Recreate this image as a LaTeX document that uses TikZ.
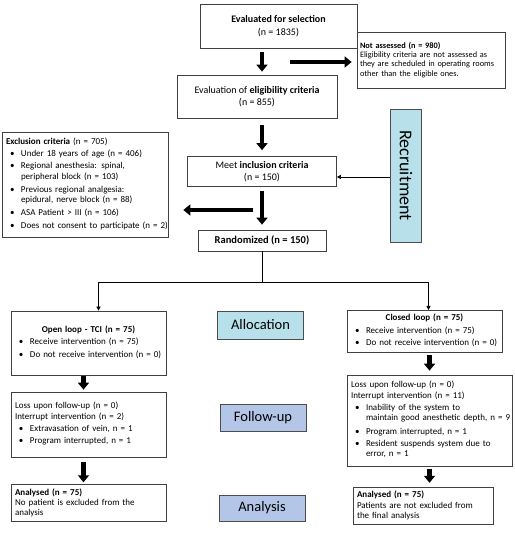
\documentclass[tikz,border=0pt]{standalone}
\usepackage{fontspec}
\setmainfont{Carlito}
\usetikzlibrary{arrows.meta}
\setlength{\parindent}{0pt}
\definecolor{phaseblue}{RGB}{183,224,234}
\definecolor{phaselilac}{RGB}{180,198,232}
\newcommand{\bul}[1]{\par\vspace{2pt}\makebox[15pt][l]{\hspace{4pt}\textbullet}\begin{tabular}[t]{@{}l@{}}#1\end{tabular}}

\begin{document}
\begin{tikzpicture}[x=1pt, y=-1pt,
  box/.style={draw=black!75, line width=0.7pt, fill=white, inner sep=4pt,
    font=\fontsize{9}{10.3}\selectfont},
  listbox/.style={box, align=left},
  headbox/.style={box, align=center, font=\fontsize{10}{11.5}\selectfont},
  phase/.style={draw=black!70, line width=0.7pt, font=\fontsize{14.5}{16}\selectfont},
  bigarrow/.style={line width=4.5pt, -{Triangle[length=7pt, width=11pt]}},
  thinarrow/.style={line width=0.6pt, -{Triangle[length=4pt, width=4pt]}}]

\useasboundingbox (0,0) rectangle (514,538);

\node[headbox, minimum width=157, minimum height=44, font=\fontsize{10}{13.5}\selectfont] (sel) at (278.5,26)
  {\textbf{Evaluated for selection}\\(n = 1835)};
\node[listbox, minimum width=148, minimum height=56, text width=142,
  inner sep=3pt, font=\fontsize{8.3}{9.2}\selectfont] (notas) at (431,60)
  {\textbf{Not assessed (n = 980)}\\Eligibility criteria are not assessed as\\they are scheduled in operating rooms\\other than the eligible ones.\par\vspace{8pt}};
\node[headbox, minimum width=160, minimum height=43] (elig) at (257,96.5)
  {Evaluation of \textbf{eligibility criteria}\\(n = 855)};
\node[headbox, minimum width=149, minimum height=30] (meet) at (262,171.5)
  {Meet \textbf{inclusion criteria}\\(n = 150)};
\node[phase, fill=phaseblue, minimum width=31, minimum height=133, inner sep=0pt,
  font=\fontsize{18}{20}\selectfont] (recr) at (406,175.5)
  {\rotatebox{-90}{Recruitment}};
\node[listbox, minimum width=166, minimum height=105, text width=158] (excl) at (85,184.5)
  {\textbf{Exclusion criteria} (n = 705)
   \bul{Under 18 years of age (n = 406)}
   \bul{Regional anesthesia: spinal,\\peripheral block (n = 103)}
   \bul{Previous regional analgesia:\\epidural, nerve block (n = 88)}
   \bul{ASA Patient > III (n = 106)}
   \bul{Does not consent to participate (n = 2)}};
\node[headbox, minimum width=128, minimum height=21, font=\fontsize{10.5}{12}\selectfont] (rand) at (262,240.5)
  {\textbf{Randomized (n = 150)}};

\node[listbox, minimum width=155, minimum height=64, text width=147] (open) at (88.5,343)
  {{\centering\textbf{Open loop - TCI (n = 75)}\par}
   \bul{Receive intervention (n = 75)}
   \bul{Do not receive intervention (n = 0)}};
\node[phase, fill=phaseblue, minimum width=86, minimum height=28] (alloc) at (260.5,325)
  {Allocation};
\node[listbox, minimum width=155, minimum height=39, text width=147] (closed) at (424.5,331.5)
  {{\centering\textbf{Closed loop (n = 75)}\par}
   \bul{Receive intervention (n = 75)}
   \bul{Do not receive intervention (n = 0)}};

\node[listbox, minimum width=155, minimum height=65, text width=147] (fupl) at (88.5,424.5)
  {Loss upon follow-up (n = 0)\par Interrupt intervention (n = 2)
   \bul{Extravasation of vein, n = 1}
   \bul{Program interrupted, n = 1}};
\node[phase, fill=phaselilac, minimum width=86, minimum height=27] (fuplab) at (263,417.5)
  {Follow-up};
\node[listbox, minimum width=165, minimum height=91, text width=157] (fupr) at (429.5,420.5)
  {Loss upon follow-up (n = 0)\par Interrupt intervention (n = 11)
   \bul{Inability of the system to\\maintain good anesthetic depth, n = 9}
   \bul{Program interrupted, n = 1}
   \bul{Resident suspends system due to\\error, n = 1}};

\node[listbox, minimum width=155, minimum height=36, text width=147] (anl) at (88.5,503)
  {\textbf{Analysed (n = 75)}\\No patient is excluded from the\\analysis};
\node[phase, fill=phaselilac, minimum width=86, minimum height=26] (anlab) at (262,508)
  {Analysis};
\node[listbox, minimum width=140, minimum height=35, text width=132] (anr) at (423,505.5)
  {\textbf{Analysed (n = 75)}\\Patients are not excluded from\\the final analysis};

\coordinate (skipfrom) at (290,62);
\coordinate (exclfrom) at (253,210);
\coordinate (split) at (262,282);

\draw[bigarrow, shorten <=4pt, shorten >=3pt] (sel.south -| meet.north) -- (elig.north -| meet.north);
\draw[bigarrow, shorten >=5pt] (skipfrom) -- (skipfrom -| notas.west);
\draw[bigarrow, shorten <=7pt, shorten >=6pt] (elig.south -| meet.north) -- (meet.north);
\draw[thinarrow] (recr.west |- 0,177) -- (meet.east |- 0,177);
\draw[bigarrow, shorten <=4pt, shorten >=5pt] (meet.south) -- (rand.north);
\draw[bigarrow, shorten >=15pt] (exclfrom) -- (exclfrom -| excl.east);

\draw[line width=0.6pt] (rand.south) -- (split);
\draw[thinarrow] (split) -| ([xshift=10pt]open.north);
\draw[thinarrow] (split) -| ([xshift=4pt]closed.north);

\draw[bigarrow, shorten <=1pt, shorten >=2pt] ([xshift=-5pt]open.south) -- ([xshift=-5pt]fupl.north);
\draw[bigarrow, shorten <=5pt, shorten >=2pt] ([xshift=-5pt]fupl.south) -- ([xshift=-5pt]anl.north);
\draw[bigarrow, shorten <=2pt, shorten >=4pt] (closed.south -| fupr.north) -- (fupr.north);
\draw[bigarrow, shorten <=3pt, shorten >=4pt] (fupr.south) -- (fupr.south |- anr.north);

\end{tikzpicture}
\end{document}
